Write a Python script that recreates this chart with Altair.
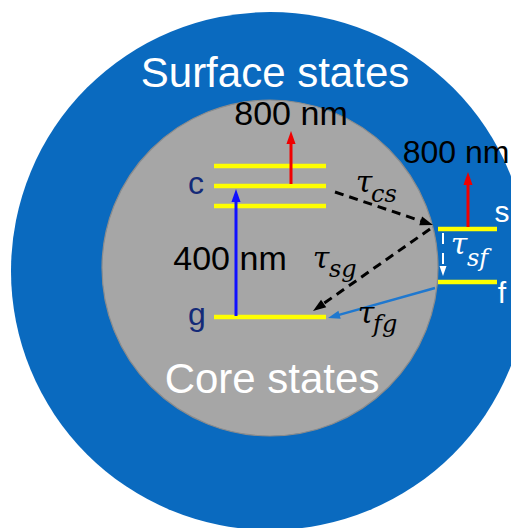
import math
import altair as alt
import pandas as pd

# ---- canvas (image pixel coordinates are used as data units) ----
W, H = 503, 520
X0, Y0 = 8, 8

# ---- circles: surface shell and core ----
circ_x = [270, 270]
circ_y = [271, 268]
circ_d = [518, 336]
circ_fill = ["#0a6abf", "#a6a6a6"]
circ_stroke = ["#0a6abf", "#8c8c8c"]

# ---- energy levels ----
lev_name = ["c+", "c", "c-", "g", "s", "f"]
lev_x0 = [214, 214, 214, 214, 438, 438]
lev_x1 = [326, 326, 326, 326, 497, 497]
lev_y = [166, 186, 206, 317, 229, 282]

# ---- arrows ----
arr_x0 = [291, 468, 236, 335, 430, 435, 443]
arr_y0 = [184, 227, 316, 192, 229, 288, 233]
arr_x1 = [291, 468, 236, 433, 313, 328, 443]
arr_y1 = [131, 172, 189, 225, 311, 318, 276]
arr_color = ["#f00000", "#f00000", "#1010ff", "#000000", "#000000", "#1f78cf", "#ffffff"]
arr_width = [3, 3, 3, 3, 3, 2.5, 2]
arr_dash = [False, False, False, True, True, False, True]
arr_head = [13, 13, 13, 13, 13, 12, 10]

# ---- sans-serif labels ----
sans_label = ["Surface states", "Core states", "800 nm", "800 nm", "400 nm", "c", "g", "s", "f"]
sans_x = [275, 272, 291, 456, 230, 196, 197, 502, 502]
sans_y = [87, 393, 125, 163, 270, 194, 325, 222, 303]
sans_size = [42, 42, 34, 32, 34, 32, 32, 30, 30]
sans_color = ["#ffffff", "#ffffff", "#000000", "#000000", "#000000",
              "#142a78", "#142a78", "#ffffff", "#ffffff"]

# ---- lifetime labels (tau with subscript) ----
tau_x = [364, 321, 366, 459]
tau_y = [192, 268, 323, 254]
tau_sub = ["cs", "sg", "fg", "sf"]
sub_x = [371, 329, 373, 467]
sub_y = [202, 277, 332, 266]
tau_color = ["#000000", "#000000", "#000000", "#ffffff"]

xs = alt.Scale(domain=[X0, X0 + W], nice=False, zero=False)
ys = alt.Scale(domain=[Y0, Y0 + H], nice=False, zero=False, reverse=True)


def X(f="x"):
    return alt.X(f"{f}:Q", scale=xs, axis=None)


def Y(f="y"):
    return alt.Y(f"{f}:Q", scale=ys, axis=None)


# circles
circ_df = pd.DataFrame({"x": circ_x, "y": circ_y,
                        "s": [d * d for d in circ_d],
                        "fill": circ_fill, "stroke": circ_stroke})
outer = alt.Chart(circ_df.iloc[[0]]).mark_circle(opacity=1).encode(
    x=X(), y=Y(), size=alt.Size("s:Q", scale=None),
    color=alt.Color("fill:N", scale=None))
inner = alt.Chart(circ_df.iloc[[1]]).mark_point(
    shape="circle", filled=True, opacity=1, strokeWidth=1.2,
    stroke="#8c8c8c", fill="#a6a6a6").encode(
    x=X(), y=Y(), size=alt.Size("s:Q", scale=None))

# levels
lev_df = pd.DataFrame({"name": lev_name, "x": lev_x0, "x1": lev_x1, "y": lev_y})
levels = alt.Chart(lev_df).mark_rule(color="#ffff00", strokeWidth=4.5).encode(
    x=X(), x2=alt.X2("x1:Q"), y=Y())

# arrows: shafts shortened so they end inside the head
rows = []
for i in range(len(arr_x0)):
    dx = arr_x1[i] - arr_x0[i]
    dy = arr_y1[i] - arr_y0[i]
    L = math.hypot(dx, dy)
    ux, uy = dx / L, dy / L
    back = arr_head[i] * 0.8
    ang = math.degrees(math.atan2(dx, -dy)) % 360
    rows.append({"x": arr_x0[i], "y": arr_y0[i],
                 "xe": arr_x1[i] - ux * back, "ye": arr_y1[i] - uy * back,
                 "xt": arr_x1[i], "yt": arr_y1[i],
                 "color": arr_color[i], "w": arr_width[i],
                 "dash": arr_dash[i], "ang": ang, "hs": arr_head[i] ** 2})
arr_df = pd.DataFrame(rows)

solid = alt.Chart(arr_df[~arr_df["dash"]]).mark_rule().encode(
    x=X(), y=Y(), x2=alt.X2("xe:Q"), y2=alt.Y2("ye:Q"),
    color=alt.Color("color:N", scale=None),
    strokeWidth=alt.StrokeWidth("w:Q", scale=None))
dashed_black = alt.Chart(arr_df[arr_df["dash"] & (arr_df["color"] == "#000000")]).mark_rule(
    strokeDash=[9, 6]).encode(
    x=X(), y=Y(), x2=alt.X2("xe:Q"), y2=alt.Y2("ye:Q"),
    color=alt.Color("color:N", scale=None),
    strokeWidth=alt.StrokeWidth("w:Q", scale=None))
dashed_white = alt.Chart(arr_df[arr_df["dash"] & (arr_df["color"] == "#ffffff")]).mark_rule(
    strokeDash=[11, 9]).encode(
    x=X(), y=Y(), x2=alt.X2("xe:Q"), y2=alt.Y2("ye:Q"),
    color=alt.Color("color:N", scale=None),
    strokeWidth=alt.StrokeWidth("w:Q", scale=None))
heads = alt.Chart(arr_df).mark_point(
    shape="M0,0L-0.7,2L0.7,2Z", filled=True, opacity=1, strokeWidth=0).encode(
    x=X("xt"), y=Y("yt"),
    angle=alt.Angle("ang:Q", scale=None),
    size=alt.Size("hs:Q", scale=None),
    color=alt.Color("color:N", scale=None))

# texts
sans_df = pd.DataFrame({"label": sans_label, "x": sans_x, "y": sans_y,
                        "fs": sans_size, "color": sans_color})
sans = alt.Chart(sans_df).mark_text(
    font="Liberation Sans", align="center", baseline="alphabetic").encode(
    x=X(), y=Y(), text="label:N",
    size=alt.Size("fs:Q", scale=None),
    color=alt.Color("color:N", scale=None))

tau_df = pd.DataFrame({"x": tau_x, "y": tau_y, "t": ["τ"] * 4,
                       "sub": tau_sub, "sx": sub_x, "sy": sub_y, "color": tau_color})
taus = alt.Chart(tau_df).mark_text(
    font="DejaVu Serif", fontStyle="italic", fontSize=30,
    align="center", baseline="alphabetic").encode(
    x=X(), y=Y(), text="t:N", color=alt.Color("color:N", scale=None))
subs = alt.Chart(tau_df).mark_text(
    font="DejaVu Serif", fontStyle="italic", fontSize=24,
    align="left", baseline="alphabetic").encode(
    x=X("sx"), y=Y("sy"), text="sub:N", color=alt.Color("color:N", scale=None))

chart = alt.layer(
    outer, inner, levels, sans, solid, dashed_black, dashed_white, heads, taus, subs
).properties(
    width=W, height=H, padding=0, autosize=alt.AutoSizeParams(type="none"),
    background="#ffffff"
).configure_view(stroke=None)

chart.save("out.html", embed_options={"renderer": "svg", "actions": False})
